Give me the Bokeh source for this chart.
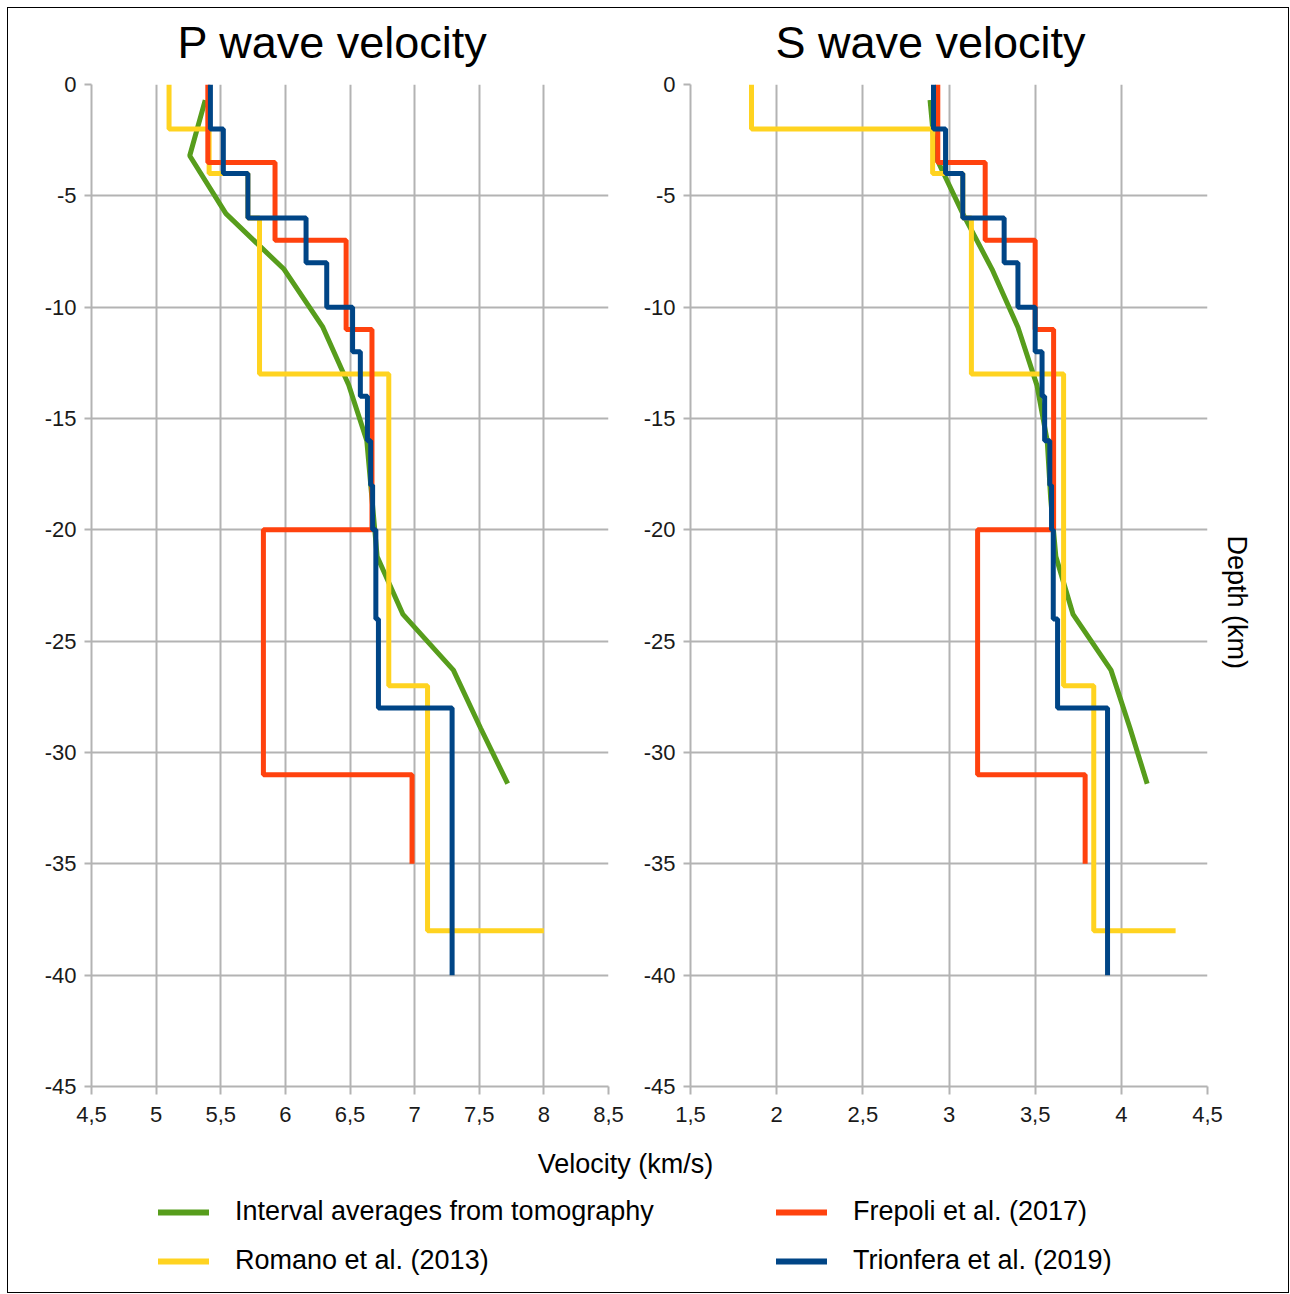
import math
from bokeh.plotting import figure
from bokeh.models import (Range1d, FixedTicker, Label, Legend, LegendItem, Title)
from bokeh.layouts import row, column
from bokeh.embed import file_html
from bokeh.resources import INLINE

# ---------------- data ----------------
# tomography interval averages (line)
TOMO_DEPTH = [-0.7, -3.2, -5.8, -8.3, -10.9, -13.5, -16.0, -18.6, -21.2, -23.8, -26.3, -28.9, -31.4]
TOMO_VP = [5.38, 5.26, 5.54, 5.99, 6.29, 6.49, 6.63, 6.67, 6.71, 6.91, 7.30, 7.51, 7.72]
TOMO_VS = [2.89, 2.92, 3.08, 3.25, 3.40, 3.51, 3.57, 3.59, 3.62, 3.72, 3.94, 4.05, 4.15]

# Romano et al. (2013): layer boundaries, velocities (last value = half-space)
ROMANO_BOUND = [0, -2, -4, -6, -13, -27, -38]
ROMANO_VP = [5.10, 5.41, 5.71, 5.80, 6.80, 7.10, 8.00]
ROMANO_VS = [1.854, 2.905, 3.08, 3.13, 3.665, 3.84, 4.315]

# Frepoli et al. (2017)
FREPOLI_BOUND = [0, -3.5, -7, -11, -20, -31, -35]
FREPOLI_VP = [5.40, 5.92, 6.47, 6.67, 5.83, 6.98]
FREPOLI_VS = [2.935, 3.21, 3.50, 3.607, 3.166, 3.79]

# Trionfera et al. (2019)
TRIONFERA_BOUND = [0, -2, -4, -6, -8, -10, -12, -14, -16, -18, -20, -24, -28, -40]
TRIONFERA_VP = [5.42, 5.52, 5.71, 6.16, 6.32, 6.52, 6.58, 6.635, 6.66, 6.675, 6.70, 6.72, 7.29]
TRIONFERA_VS = [2.91, 2.98, 3.08, 3.32, 3.40, 3.50, 3.54, 3.555, 3.585, 3.595, 3.605, 3.63, 3.92]

P_TICKS = [4.5, 5, 5.5, 6, 6.5, 7, 7.5, 8, 8.5]
P_TICK_LABELS = ["4,5", "5", "5,5", "6", "6,5", "7", "7,5", "8", "8,5"]
S_TICKS = [1.5, 2, 2.5, 3, 3.5, 4, 4.5]
S_TICK_LABELS = ["1,5", "2", "2,5", "3", "3,5", "4", "4,5"]
Y_TICKS = [0, -5, -10, -15, -20, -25, -30, -35, -40, -45]
Y_TICK_LABELS = ["0", "-5", "-10", "-15", "-20", "-25", "-30", "-35", "-40", "-45"]

PANEL_TITLES = ["P wave velocity", "S wave velocity"]
SERIES_NAMES = ["Interval averages from tomography", "Romano et al. (2013)",
                "Frepoli et al. (2017)", "Trionfera et al. (2019)"]
COLORS = ["#579d1c", "#ffd320", "#ff420e", "#004586"]

FONT = "Liberation Sans"
GRID = "#b3b3b3"
TICK_FONT_SIZE = "22px"
LABEL_FONT_SIZE = "27px"


def steps(bounds, vels):
    xs, ys = [], []
    for i, v in enumerate(vels):
        xs.append(v); ys.append(bounds[i])
        if i + 1 < len(bounds):
            xs.append(v); ys.append(bounds[i + 1])
    return xs, ys


def strip(width, height):
    s = figure(width=width, height=height, x_range=Range1d(0, width), y_range=Range1d(0, height),
               output_backend="svg", toolbar_location=None,
               x_axis_location=None, y_axis_location=None,
               min_border_left=0, min_border_right=0, min_border_top=0, min_border_bottom=0)
    s.outline_line_color = None
    s.xgrid.visible = False
    s.ygrid.visible = False
    return s


def panel(xr, ticks, labels, width, bl, br, tomo, rom, fre, tri):
    p = figure(width=width, height=1068, x_range=Range1d(*xr), y_range=Range1d(-45, 0),
               output_backend="svg", toolbar_location=None,
               min_border_left=bl, min_border_right=br, min_border_top=12, min_border_bottom=54)
    p.outline_line_color = None
    p.background_fill_color = "white"
    p.border_fill_color = "white"
    for ax in (p.xaxis[0], p.yaxis[0]):
        ax.axis_line_color = GRID
        ax.axis_line_width = 2
        ax.major_tick_line_color = GRID
        ax.major_tick_line_width = 2
        ax.major_tick_in = 0
        ax.minor_tick_line_color = None
        ax.major_label_text_font = FONT
        ax.major_label_text_font_size = TICK_FONT_SIZE
        ax.major_label_text_color = "#1a1a1a"
    p.xaxis.ticker = FixedTicker(ticks=ticks)
    p.xaxis.major_label_overrides = {float(t): l for t, l in zip(ticks, labels)}
    p.xaxis.major_tick_out = 8
    p.xaxis.major_label_standoff = 12
    p.yaxis.ticker = FixedTicker(ticks=Y_TICKS)
    p.yaxis.major_label_overrides = {float(t): l for t, l in zip(Y_TICKS, Y_TICK_LABELS)}
    p.yaxis.major_tick_out = 7
    p.yaxis.major_label_standoff = 8
    for g in (p.xgrid[0], p.ygrid[0]):
        g.grid_line_color = GRID
        g.grid_line_width = 2

    p.line(tomo[0], tomo[1], line_color=COLORS[0], line_width=5)
    rx, ry = steps(*rom)
    p.line(rx, ry, line_color=COLORS[1], line_width=5)
    fx, fy = steps(*fre)
    p.line(fx, fy, line_color=COLORS[2], line_width=5)
    bx, by = steps(*tri)
    p.line(bx, by, line_color=COLORS[3], line_width=5)
    return p


# top strip with the two panel titles
p0 = strip(1280, 64)
for txt, cx in zip(PANEL_TITLES, [324, 922]):
    p0.add_layout(Label(x=cx, y=30, text=txt, text_align="center", text_baseline="middle",
                        text_font=FONT, text_font_size="45px", text_color="black"))

p1 = panel((4.5, 8.5), P_TICKS, P_TICK_LABELS, 632, 83, 32,
           (TOMO_VP, TOMO_DEPTH), (ROMANO_BOUND, ROMANO_VP), (FREPOLI_BOUND, FREPOLI_VP),
           (TRIONFERA_BOUND, TRIONFERA_VP))
p2 = panel((1.5, 4.5), S_TICKS, S_TICK_LABELS, 648, 50, 81,
           (TOMO_VS, TOMO_DEPTH), (ROMANO_BOUND, ROMANO_VS), (FREPOLI_BOUND, FREPOLI_VS),
           (TRIONFERA_BOUND, TRIONFERA_VS))
p2.add_layout(Title(text="Depth (km)", align="left", offset=451, standoff=28,
                    text_font=FONT, text_font_size=LABEL_FONT_SIZE, text_font_style="normal",
                    text_color="black"), "right")

# bottom strip: axis title + legend
p3 = strip(1280, 152)
p3.add_layout(Label(x=617, y=129, text="Velocity (km/s)", text_align="center",
                    text_baseline="middle", text_font=FONT, text_font_size=LABEL_FONT_SIZE,
                    text_color="black"))

NAN = float("nan")
dummies = [p3.line(x=[NAN, NAN], y=[NAN, NAN], line_color=c, line_width=6, line_cap="round")
           for c in COLORS]


def make_legend(idx, xloc):
    return Legend(items=[LegendItem(label=SERIES_NAMES[i], renderers=[dummies[i]]) for i in idx],
                  location=(xloc, 16), orientation="vertical",
                  glyph_width=51, glyph_height=30, label_height=30, label_standoff=26,
                  spacing=18, padding=0, margin=0, border_line_alpha=0,
                  background_fill_alpha=0, label_text_font=FONT,
                  label_text_font_size=LABEL_FONT_SIZE, label_text_color="black")


p3.add_layout(make_legend([0, 1], 150))
p3.add_layout(make_legend([2, 3], 768))

layout = column(p0, row(p1, p2), p3, margin=(8, 0, 0, 8),
                styles={"outline": "1.5px solid #000000", "outline-offset": "0px"})

open("out.html", "w").write(file_html(layout, INLINE))
